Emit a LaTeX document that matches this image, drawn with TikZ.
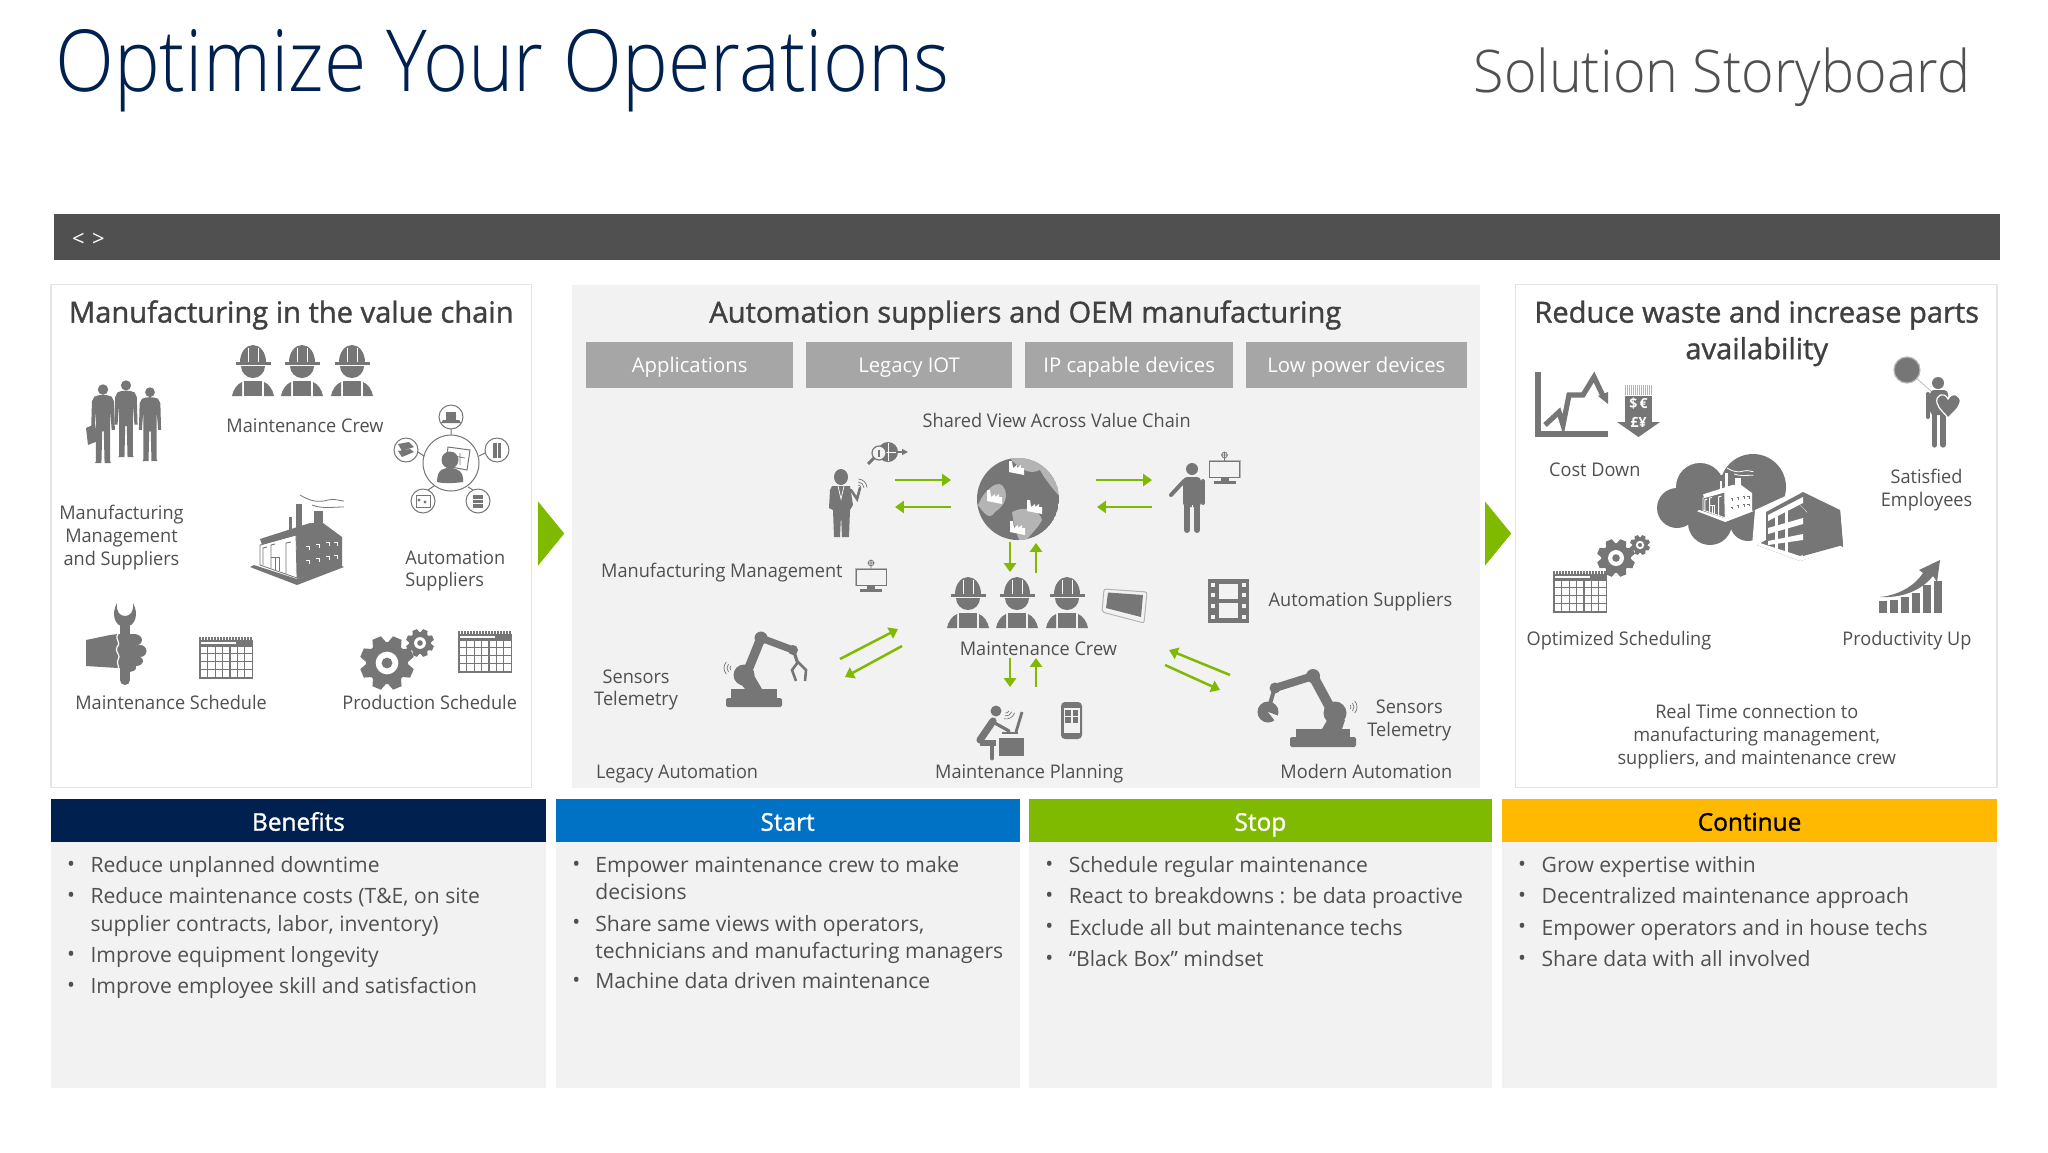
\documentclass[tikz,border=0pt]{standalone}
\usepackage{fontspec}
\usetikzlibrary{arrows.meta}
\setmainfont{Open Sans}
\newfontfamily\lightf[FakeStretch=.9]{Open Sans Light}
\newfontfamily\lightg[FakeStretch=.945]{Open Sans Light}
\newfontfamily\semif[FakeBold=1.2]{Open Sans}
\newfontfamily\labf[FakeStretch=.965]{Open Sans}
\definecolor{navy}{HTML}{002050}
\definecolor{barcol}{HTML}{505050}
\definecolor{icong}{HTML}{767676}
\definecolor{litg}{HTML}{B4B4B4}
\definecolor{panelg}{HTML}{F2F2F2}
\definecolor{edgeg}{HTML}{E4E4E4}
\definecolor{boxg}{HTML}{A6A6A6}
\definecolor{txtg}{HTML}{505050}
\definecolor{ttlg}{HTML}{404040}
\definecolor{bluec}{HTML}{0072C6}
\definecolor{greenc}{HTML}{7FBA00}
\definecolor{yelc}{HTML}{FFB900}
\colorlet{facfg}{icong}
\colorlet{facbg}{white}
\tikzset{
 lab/.style={font=\labf\fontsize{9.4}{11}\selectfont,text=txtg,inner sep=0pt},
 lw/.style={lab,anchor=base west},
 lc/.style={lab,anchor=base},
 ttl/.style={font=\semif\fontsize{14.55}{16}\selectfont,text=ttlg,inner sep=0pt,anchor=base},
 bt/.style={font=\fontsize{10.55}{12}\selectfont,text=txtg,inner sep=0pt,anchor=base west},
 hd/.style={font=\semif\fontsize{12.2}{14}\selectfont,inner sep=0pt,anchor=base},
 subbox/.style={fill=boxg,draw=none},
 chip/.style={font=\fontsize{10.15}{12}\selectfont,text=white,inner sep=0pt,anchor=base},
 ga/.style={draw=greenc,line width=1.25pt,-{Triangle[length=4.4pt,width=6pt]}},
 worker/.pic={
  \fill[icong] (-13,17) arc (180:360:13 and 17) -- cycle;
  \draw[white,line width=.35pt] (-5,2.5)--(-5,17) (5,2.5)--(5,17);
  \fill[icong] (-17.5,17) rectangle (17.5,20);
  \fill[icong] (-12,21) arc (180:0:12 and 12) -- cycle;
  \fill[icong] (-9,36) rectangle (9,51);
  \fill[icong] (-21,51) .. controls (-20,45) and (-16,39) .. (-11,37) -- (-11,51) -- cycle;
  \fill[icong] (21,51) .. controls (20,45) and (16,39) .. (11,37) -- (11,51) -- cycle;
 },
 calendar/.pic={
  \foreach \i in {0,...,17} \fill[icong] (\i*3,0) rectangle (\i*3+1.6,3);
  \fill[icong] (0,2.5) rectangle (54,42);
  \fill[white] (2,5) rectangle (37,6.6);
  \foreach \c in {0,...,6} \foreach \r in {0,...,3}
   \fill[white] (2+\c*7.4,9.5+\r*7.8) rectangle (8.2+\c*7.4,16.3+\r*7.8);
 },
 gear/.pic={
  \foreach \a in {0,45,...,315}
   \fill[icong,rotate=\a+22.5] (-.27,.7) -- (-.17,1) -- (.17,1) -- (.27,.7) -- cycle;
  \fill[icong] (0,0) circle (.78);
  \fill[white] (0,0) circle (.42);
  \fill[icong] (0,0) circle (.2);
 },
 monitor/.pic={
  \fill[litg] (-16,-4) rectangle (16,14);
  \fill[panelg] (-14.5,-2.5) rectangle (14.5,12.5);
  \draw[icong,line width=.5pt] (-15,-3) rectangle (15,13);
  \fill[icong] (-4,14) rectangle (4,17);
  \fill[icong] (-11,17) rectangle (11,19.5);
  \draw[icong,line width=.4pt] (0,-9) circle (2.8) (0,-12.5)--(0,-3.5) (-3.5,-9)--(3.5,-9);
 },
 wifi/.pic={
  \foreach \r in {3,6,9}
   \draw[icong,line width=.35pt] (-42:\r) arc (-42:42:\r);
 },
 suit/.pic={
  \fill[icong] (0,7) circle (6.6);
  \fill[icong] (-11,16) .. controls (-5,13) and (5,13) .. (11,16) -- (14,22) -- (15,58) -- (11,58) -- (9,32) -- (9,58) -- (9,98) -- (10,100) -- (2,100) -- (1,60) -- (-1,60) -- (-2,100) -- (-10,100) -- (-9,98) -- (-9,58) -- (-9,32) -- (-11,58) -- (-15,58) -- (-14,22) -- cycle;
 },
 factory/.pic={
  % platform
  \fill[facfg] (0,72) -- (47,90) -- (94,72) -- (90,70) -- (47,84) -- (4,70) -- cycle;
  % chimneys and smoke
  \fill[facfg] (39,22) rectangle (42,40);
  \fill[facfg] (46,9) rectangle (52,34);
  \fill[facfg] (64,16) rectangle (73,32);
  \draw[facfg,line width=.4pt] (50,0) .. controls (60,6) and (68,8) .. (78,5) .. controls (84,3) and (90,6) .. (94,6);
  \draw[facfg,line width=.4pt] (62,10) .. controls (72,14) and (82,12) .. (94,12);
  % roof band and dark block
  \fill[facfg] (10,44) -- (60,28) -- (73,28) -- (60,36) -- (12,50) -- cycle;
  \fill[facfg] (46,40) -- (73,28) -- (92,42) -- (92,71) -- (47,84) -- cycle;
  % pale front, drawn with thin lines
  \fill[facbg] (12,50) -- (46,41) -- (47,83) -- (10,70) -- cycle;
  \draw[facfg,line width=.4pt] (10,50) -- (46,40) -- (47,83) -- (10,70) -- cycle;
  \draw[facfg,line width=.45pt] (13,70) -- (13,53) -- (17,52) (21,73) -- (21,50) -- (25,49) (36,79) -- (36,48) -- (41,47);
  \draw[facfg,line width=.4pt] (21,62) -- (29,62) -- (29,76) (25,62) -- (25,75);
  % window marks on the dark block
  \foreach \x/\y in {56/51,66/49,76/47,84/47,56/65,66/63,76/61,84/60}
   \draw[facbg,line width=.5pt] (\x,\y) -- ++(3,0) -- ++(0,4);
 },
}
\begin{document}
\begin{tikzpicture}[x=.5pt,y=-.5pt,line cap=butt]
\useasboundingbox (0,0) rectangle (2048,1152);
\fill[white] (0,0) rectangle (2048,1152);

%% ---- structure and text, in the coordinates of the 1568 x 882 view
\begin{scope}[x=.65306pt,y=-.65306pt]
\node[font=\lightf\fontsize{42.8}{50}\selectfont,text=navy,inner sep=0pt,anchor=base west] (maintitle) at (42,70) {Optimize Your Operations};
\node[font=\lightg\fontsize{29.4}{34}\selectfont,text=txtg,inner sep=0pt,anchor=base west] (storyboard) at (1128,71) {Solution Storyboard};
\fill[barcol] (41,164) rectangle (1531,199);
\node[font=\fontsize{11}{12}\selectfont,text=white,inner sep=0pt,anchor=west] (code) at (55,184) {<\,\,>};

\fill[white,draw=edgeg,line width=.6pt] (39,218) rectangle (407,603);
\fill[panelg] (438,218) rectangle (1133,603);
\fill[white,draw=edgeg,line width=.6pt] (1160,218) rectangle (1529,603);

\fill[greenc] (412,384) -- (432,408.5) -- (412,433) -- cycle;
\fill[greenc] (1137,384) -- (1157,408.5) -- (1137,433) -- cycle;

\node[ttl] (t1) at (223,247) {Manufacturing in the value chain};
\node[ttl] (t2) at (785,247) {Automation suppliers and OEM manufacturing};
\node[ttl] (t3) at (1345,247) {Reduce waste and increase parts};
\node[ttl] (t3b) at (1345,275) {availability};

\node[lc] (l1) at (233.5,331) {Maintenance Crew};
\node[lc] (l2) at (93,398) {Manufacturing};
\node[lc] (l3) at (93,415) {Management};
\node[lc] (l4) at (93,433) {and Suppliers};
\node[lw] (l5) at (310,432) {Automation};
\node[lw] (l6) at (310,449) {Suppliers};
\node[lc] (l7) at (131,543) {Maintenance Schedule};
\node[lc] (l8) at (329,543) {Production Schedule};

\fill[subbox] (449,262) rectangle (607,297);
\fill[subbox] (617,262) rectangle (775,297);
\fill[subbox] (785,262) rectangle (944,297);
\fill[subbox] (954,262) rectangle (1123,297);
\node[chip] (c1) at (528,285.5) {Applications};
\node[chip] (c2) at (696,285.5) {Legacy IOT};
\node[chip] (c3) at (864.5,285.5) {IP capable devices};
\node[chip] (c4) at (1038.5,285.5) {Low power devices};

\node[lc] (m1) at (809,327) {Shared View Across Value Chain};
\node[lw] (m2) at (460,442) {Manufacturing Management};
\node[lc] (m3) at (487,523) {Sensors};
\node[lc] (m4) at (487,540) {Telemetry};
\node[lc] (m5) at (795,502) {Maintenance Crew};
\node[lw] (m6) at (971,464) {Automation Suppliers};
\node[lc] (m7) at (1079,546) {Sensors};
\node[lc] (m8) at (1079,564) {Telemetry};
\node[lw] (m9) at (456,596) {Legacy Automation};
\node[lc] (m10) at (788,596) {Maintenance Planning};
\node[lw] (m11) at (980,596) {Modern Automation};

\node[lc] (r1) at (1221,365) {Cost Down};
\node[lc] (r2) at (1475,370) {Satisfied};
\node[lc] (r3) at (1475,388) {Employees};
\node[lc] (r4) at (1239.5,494) {Optimized Scheduling};
\node[lc] (r5) at (1460,494) {Productivity Up};
\node[lc] (r6) at (1345,550) {Real Time connection to};
\node[lc] (r7) at (1345,568) {manufacturing management,};
\node[lc] (r8) at (1345,585) {suppliers, and maintenance crew};

%% bottom columns
\fill[panelg] (39,645) rectangle (418,833);
\fill[panelg] (426,645) rectangle (781,833);
\fill[panelg] (788,645) rectangle (1142,833);
\fill[panelg] (1150,645) rectangle (1529,833);
\fill[navy] (39,612) rectangle (418,645);
\fill[bluec] (426,612) rectangle (781,645);
\fill[greenc] (788,612) rectangle (1142,645);
\fill[yelc] (1150,612) rectangle (1529,645);
\node[hd,text=white] (h1) at (228.5,636) {Benefits};
\node[hd,text=white] (h2) at (603,636) {Start};
\node[hd,text=white] (h3) at (965,636) {Stop};
\node[hd,text=black] (h4) at (1339.5,636) {Continue};

\foreach \n/\x/\y in {a/51/667,b/51/691,c/51/736,d/51/760,
  e/438/667,f/438/712,g/438/756,
  h/800/667,i/800/691,j/800/715,k/800/739,
  l/1162/667,m/1162/691,n/1162/715,o/1162/739}
  \node[bt] (dot\n) at (\x,\y) {•};

\node[bt] (b1) at (69,668) {Reduce unplanned downtime};
\node[bt] (b2) at (69,692) {Reduce maintenance costs (T\&E, on site};
\node[bt] (b3) at (69,713) {supplier contracts, labor, inventory)};
\node[bt] (b4) at (69,737) {Improve equipment longevity};
\node[bt] (b5) at (69,761) {Improve employee skill and satisfaction};
\node[bt] (s1) at (455.5,668) {Empower maintenance crew to make};
\node[bt] (s2) at (455.5,689) {decisions};
\node[bt] (s3) at (455.5,713) {Share same views with operators,};
\node[bt] (s4) at (455.5,734) {technicians and manufacturing managers};
\node[bt] (s5) at (455.5,757) {Machine data driven maintenance};
\node[bt] (p1) at (818,668) {Schedule regular maintenance};
\node[bt] (p2) at (818,692) {React to breakdowns : be data proactive};
\node[bt] (p3) at (818,716) {Exclude all but maintenance techs};
\node[bt] (p4) at (818,740) {“Black Box” mindset};
\node[bt] (q1) at (1180,668) {Grow expertise within};
\node[bt] (q2) at (1180,692) {Decentralized maintenance approach};
\node[bt] (q3) at (1180,716) {Empower operators and in house techs};
\node[bt] (q4) at (1180,740) {Share data with all involved};
\end{scope}

%% ---- icons of the left panel (full-size pixels)
\pic at (253,345) {worker};
\pic at (302,345) {worker};
\pic at (352,345) {worker};
\pic[scale=.79] at (103,384) {suit};
\pic[scale=.77] at (126,380) {suit};
\pic[scale=.74] at (150,387) {suit};
\fill[icong] (86,428) -- (95,424) -- (98,441) -- (88,445) -- cycle;

% automation suppliers ring
\draw[icong,line width=.5pt] (451,463) circle (28);
\foreach \x/\y in {451/417,497/450,478/501,423/501,406/450}
  \draw[icong,line width=.5pt,fill=white] (\x,\y) circle (12);
\draw[icong,line width=.5pt] (451,429)--(451,435) (485,453)--(479,456) (473,490)--(468,487) (428,490)--(434,486) (418,452)--(424,456);
\fill[icong] (446,412) rectangle (456,420);
\fill[icong] (443,420) -- (459,420) -- (461,423) -- (441,423) -- cycle;
\fill[icong] (493,443) rectangle (501,458);
\draw[white,line width=.4pt] (497,443)--(497,458);
\fill[icong] (473,495) rectangle (483,508);
\draw[white,line width=.4pt] (473,499)--(483,499) (473,503)--(483,503);
\draw[icong,line width=.5pt] (416,495) rectangle (430,507);
\fill[icong] (419,500) circle (1.6) (425,502) circle (1.6);
\fill[icong] (398,444) -- (409,442) -- (414,447) -- (402,451) -- cycle;
\fill[icong] (398,451) -- (410,449) -- (414,452) -- (402,457) -- cycle;
\draw[icong,line width=.5pt,fill=white] (448,447) -- (470,450) -- (467,470) -- (446,466) -- cycle;
\draw[icong,line width=.35pt] (454,457)--(454,464) (460,453)--(460,465) (454,456)--(465,458);
\fill[icong] (450,460) circle (8.5);
\fill[icong] (437,482) .. controls (437,468) and (445,468) .. (450,468) .. controls (458,468) and (464,472) .. (463,482) .. controls (455,483) and (445,484) .. (437,482) -- cycle;

\pic at (250,495) {factory};

% wrench and hand
\fill[icong] (120,625) rectangle (130,680);
\fill[icong] (125,680) circle (5);
\fill[icong] (117,603) .. controls (111,614) and (115,624) .. (121,626) -- (129,626) .. controls (135,624) and (139,614) .. (133,603) .. controls (134,612) and (130,616) .. (125,616) .. controls (120,616) and (116,612) .. (117,603) -- cycle;
\fill[icong] (86,640) -- (110,635) -- (118,634) -- (118,668) -- (86,666) -- cycle;
\fill[icong] (118,634) rectangle (136,668);
\fill[icong] (134,640) ellipse (8 and 6) (140,651) ellipse (6.5 and 6) (136,661) ellipse (7 and 5) (128,668) ellipse (8 and 4);
\draw[white,line width=.6pt] (118,634) .. controls (114,640) and (122,642) .. (117,647) .. controls (114,652) and (122,655) .. (118,660) .. controls (116,664) and (120,666) .. (118,669);

\pic at (199,637) {calendar};
\pic at (458,631) {calendar};
\pic[scale=27] at (387,663) {gear};
\pic[scale=14] at (420,643) {gear};

%% ---- icons of the middle panel
\pic at (968,577) {worker};
\pic at (1017,577) {worker};
\pic at (1067,577) {worker};

% manager woman
\fill[icong] (841,477) ellipse (7 and 8);
\fill[icong] (832,486) -- (850,486) -- (853,505) -- (850,510) -- (849,537) -- (842,537) -- (841,515) -- (840,537) -- (834,537) -- (833,510) -- (829,508) -- (830,490) -- cycle;
\draw[white,line width=.35pt] (838,486)--(841,499)--(844,486);
\draw[icong,line width=1.3pt,line cap=round] (851,490)--(857,499)--(860,488);
\pic[rotate=45] at (858,488) {wifi};
% magnifier and globe
\fill[icong] (888,452) circle (10);
\draw[white,line width=.3pt] (880,452)--(896,452) (888,443)--(888,461);
\draw[icong,line width=.7pt,->,>={Triangle[length=3pt,width=3pt]}] (896,452)--(908,452);
\draw[icong,line width=1.5pt] (874,458)--(868,464);
\draw[icong,line width=.6pt,fill=panelg] (879,453) circle (7);
\fill[icong] (878,450) rectangle (880,457);

% globe
\begin{scope}
\clip (1018,499) circle (41);
\fill[icong] (1018,499) circle (41);
\fill[litg] (1010,458) .. controls (1020,470) and (1030,475) .. (1040,470) .. controls (1045,480) and (1058,495) .. (1062,499) -- (1062,455) -- cycle;
\fill[litg] (978,505) .. controls (985,488) and (1000,478) .. (1004,488) .. controls (1008,495) and (1006,505) .. (995,512) .. controls (990,520) and (985,515) .. (978,505) -- cycle;
\fill[litg] (1012,512) .. controls (1025,505) and (1040,510) .. (1042,520) .. controls (1038,528) and (1030,535) .. (1022,545) .. controls (1016,535) and (1014,525) .. (1012,512) -- cycle;
\foreach \x/\y in {1009/472,987/501,1027/511,1010/532}
 \fill[white] (\x,\y) -- ++(0,-11) -- ++(3,0) -- ++(1,7) -- ++(4,-3) -- ++(0,3) -- ++(4,-3) -- ++(0,3) -- ++(3,0) -- ++(0,7) -- cycle;
\end{scope}

% man with monitor
\fill[icong] (1192,469) circle (6);
\fill[icong,rounded corners=2pt] (1183,477) rectangle (1201,507);
\draw[icong,line width=2pt,line cap=round] (1203,481)--(1203,503);
\draw[icong,line width=2pt,line cap=round] (1184,481)--(1171,495);
\draw[icong,line width=3pt,line cap=round] (1187,505)--(1187,530) (1197,505)--(1197,530);
\draw[panelg,line width=.4pt] (1192,505)--(1192,534);
\pic at (1224.5,464) {monitor};
\pic at (871,572) {monitor};

% tablet
\draw[litg,line width=.5pt,fill=panelg,rounded corners=1pt] (1104,589) -- (1147,592) -- (1144,623) -- (1102,612) -- cycle;
\fill[icong] (1108,592.5) -- (1143,595) -- (1141,617) -- (1106,608) -- cycle;
% film strip
\fill[icong] (1208,579) rectangle (1249,623);
\foreach \y in {583,593,604,615} {
 \fill[panelg] (1211,\y) rectangle (1215,\y+4);
 \fill[panelg] (1242,\y) rectangle (1246,\y+4);}
\fill[panelg] (1219,584) rectangle (1238,599);
\fill[panelg] (1219,603) rectangle (1238,618);

% legacy robot
\fill[icong,rounded corners=.8pt] (726,698) rectangle (782,707);
\fill[icong] (731,689) rectangle (777,698);
\fill[icong] (736,678) -- (752,672) -- (762,689) -- (745,689) -- cycle;
\draw[icong,line width=4.6pt] (746,675)--(761,638);
\draw[icong,line width=3.6pt] (761,638)--(793,650);
\fill[icong] (744,675) circle (10.5) (761,638) circle (6.5) (793,650) circle (5);
\draw[icong,line width=1.6pt] (794,652)--(798,664);
\draw[icong,line width=1.3pt] (798,662)--(792,670)--(796,681) (798,662)--(806,670)--(805,681);
\pic[rotate=180] at (733,668) {wifi};
% modern robot
\fill[icong,rounded corners=.8pt] (1290,737) rectangle (1356,747);
\fill[icong] (1296,729) rectangle (1350,737);
\fill[icong] (1322,729) -- (1332,712) -- (1345,720) -- (1342,729) -- cycle;
\draw[icong,line width=5pt] (1333,713)--(1313,676);
\draw[icong,line width=4pt] (1313,676)--(1275,688);
\fill[icong] (1335,713) circle (11.5) (1313,676) circle (7) (1275,688) circle (5.5);
\draw[icong,line width=2pt] (1274,690)--(1270,704);
\draw[icong,fill=icong,line width=.5pt] (1268,712) circle (10);
\fill[panelg] (1268,712) -- (1279,716) -- (1276,722) -- cycle;
\pic at (1348,707) {wifi};

% person at the desk
\fill[icong] (996,711) circle (5.5);
\draw[icong,line width=3.6pt,line cap=round] (993,721)--(980,740);
\draw[icong,line width=1.6pt,line cap=round] (993,722)--(1009,731);
\draw[icong,line width=3.2pt] (980,743)--(996,743);
\draw[icong,line width=2.4pt,line cap=round] (992,743)--(992,758);
\fill[icong] (999,738) rectangle (1024,756);
\draw[icong,line width=.8pt] (1002,733)--(1018,733);
\draw[icong,line width=1.4pt] (1022,712)--(1016,732);
\pic[rotate=-60] at (1006,710) {wifi};
% phone
\fill[icong,rounded corners=2pt] (1061,702) rectangle (1082,739);
\fill[panelg] (1063.5,708) rectangle (1079.5,733);
\foreach \x/\y in {1065/710,1072.5/710,1065/717,1072.5/717}
 \fill[icong] (\x,\y) rectangle (\x+5.5,\y+5.5);

%% ---- icons of the right panel
% chart
\fill[icong] (1535,372) rectangle (1541,437);
\fill[icong] (1535,431) rectangle (1608,437);
\draw[icong,line width=2.6pt] (1545,425)--(1559,412)--(1563,425)--(1569,395)--(1583,395)--(1594,377)--(1603,396);
\fill[icong] (1598,396) -- (1608,392) -- (1608,404) -- cycle;
% currency
\foreach \i in {0,...,13} \fill[litg] (1625+\i*2,385) rectangle (1626+\i*2,395);
\fill[icong] (1625,396) rectangle (1652,422);
\fill[icong] (1617,422) -- (1660,422) -- (1638.5,437) -- cycle;
\node[font=\bfseries\fontsize{7}{7}\selectfont,text=white,inner sep=0pt] (cur1) at (1638.5,404) {\$\,€};
\node[font=\bfseries\fontsize{7}{7}\selectfont,text=white,inner sep=0pt] (cur2) at (1638.5,422) {£¥};

% balloon man with heart
\draw[litg,line width=.35pt] (1907,370)--(1932,392);
\draw[litg,line width=.6pt,fill=icong] (1907,370) circle (13);
\fill[icong] (1938,383) circle (6);
\fill[icong,rounded corners=2pt] (1930,390) rectangle (1948,415);
\draw[icong,line width=2pt,line cap=round] (1927.5,394)--(1927.5,417);
\draw[icong,line width=2.6pt,line cap=round] (1934.5,413)--(1934.5,445) (1943,413)--(1943,445);
\draw[white,line width=.6pt,fill=icong] (1948,399) .. controls (1944,391) and (1935,395) .. (1937,403) .. controls (1939,410) and (1945,413) .. (1948,418) .. controls (1952,413) and (1958,410) .. (1960,403) .. controls (1962,395) and (1952,391) .. (1948,399) -- cycle;

% cloud with factory and building
\fill[icong] (1753,487) circle (33) (1700,487) circle (24) (1677,508) circle (20) (1710,523) circle (22) (1748,523) circle (18) (1720,500) circle (25);
\begin{scope}
\colorlet{facfg}{white}
\colorlet{facbg}{icong}
\pic[scale=.6] at (1697,468) {factory};
\end{scope}
\fill[white] (1755,510) -- (1803,488) -- (1812,490) -- (1800,560) -- (1752,546) -- cycle;
\fill[icong] (1766,512) -- (1803,492) -- (1840,510) -- (1843,547) -- (1800,561) -- (1757,545) -- (1766,540) -- cycle;
\fill[white] (1768,515) -- (1803,497) -- (1803,503) -- (1768,521) -- cycle;
\fill[white] (1768,528) -- (1803,518) -- (1803,524) -- (1768,534) -- cycle;
\fill[white] (1768,541) -- (1803,534) -- (1803,540) -- (1768,545) -- cycle;
\fill[white] (1775,515) rectangle (1778,550);
\fill[white] (1785,510) rectangle (1788,552);
\fill[white] (1800,505) -- (1843,548) -- (1800,561) -- (1757,545) -- (1760,543) -- (1800,556) -- (1838,545) -- cycle;
\fill[icong] (1808,505) -- (1840,510) -- (1843,545) -- (1803,556) -- cycle;

% calendar and gears
\pic at (1553,571) {calendar};
\pic[scale=19] at (1616,558) {gear};
\pic[scale=10] at (1640,545) {gear};

% productivity
\foreach \a/\b/\t in {1879/1887/601,1890/1898/600,1901/1909/597,1912/1920/593,1923/1931/585,1934/1942/581}
 \fill[icong] (\a,\t) rectangle (\b,613);
\fill[icong] (1880,597) .. controls (1900,595) and (1915,585) .. (1923,573) -- (1919,570) -- (1940,560) -- (1937,582) -- (1933,576) .. controls (1920,592) and (1900,598) .. (1880,597) -- cycle;

%% ---- arrows
\foreach \n/\x/\y in {a/895/480,b/951/480,c/951/507,d/895/507,e/1010/542,f/1010/572,g/1036/573,h/1036/543,
 i/1010/658,j/1010/687,k/1036/687,l/1036/658,m/840/659,n/898/629,o/902/646,p/845/677,
 q/1096/480,r/1152/480,s/1152/507,t/1097/507,u/1230/675,v/1169/650,w/1165/665,x/1220/690}
 \coordinate (e\n) at (\x,\y);
\draw[ga] (ea)--(eb);
\draw[ga] (ec)--(ed);
\draw[ga] (ee)--(ef);
\draw[ga] (eg)--(eh);
\draw[ga] (ei)--(ej);
\draw[ga] (ek)--(el);
\draw[ga] (em)--(en);
\draw[ga] (eo)--(ep);
\draw[ga] (eq)--(er);
\draw[ga] (es)--(et);
\draw[ga] (eu)--(ev);
\draw[ga] (ew)--(ex);
\end{tikzpicture}
\end{document}
